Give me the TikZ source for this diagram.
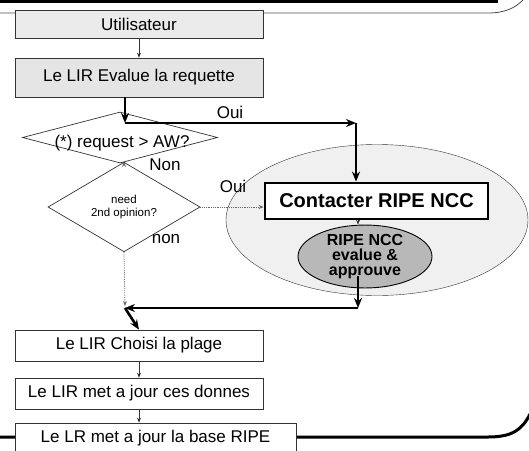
\documentclass[tikz,border=0pt]{standalone}
\usepackage{fontspec}
\setmainfont{Liberation Sans}
\usetikzlibrary{
  arrows.meta,
  calc,
  positioning,
  shapes.geometric,
}
\tikzstyle{thinarrow} = [
  -{Stealth[length=5pt,width=4pt]},
  line width=0.6pt,
  black!80,
]
\tikzstyle{thickarrow} = [
  -{Stealth[length=10pt,width=8pt]},
  line width=2.6pt,
  black,
]
\tikzstyle{dotarrow} = [
  -{Stealth[length=5pt,width=4pt]},
  line width=0.8pt,
  densely dotted,
  black!60,
]
\newcommand{\fs}[1]{\fontsize{#1}{#1}\selectfont}

\begin{document}
\begin{tikzpicture}[x=1pt, y=-1pt,
                    box/.style={draw=black!80, line width=0.7pt, minimum width=248pt,
                                inner sep=0pt, font=\fs{17}},
                    ask/.style={draw=black!80, line width=0.7pt, diamond, inner sep=0pt},
                    tag/.style={font=\fs{17}, inner sep=0pt}]
      \useasboundingbox (0,0) rectangle (529,450);
      \clip (0,0) rectangle (529,450);

      % cadre de la diapo
      \draw [line width=3pt] (0,1.5) -- (498,1.5);
      \draw [black!70, line width=0.8pt] (0,13) -- (488,13)
            .. controls (505,13) and (515,8) .. (523,0);
      \draw [line width=3pt] (0,437) -- (488,437)
            .. controls (512,437) and (522,430) .. (530,414);

      \node [box, fill=black!8, minimum height=28pt] (user) at (139,24) {Utilisateur};
      \node [box, fill=black!10, minimum height=39pt] (eval) at (139,77.5)
            {Le LIR Evalue la requette};

      \node [ask, minimum width=195pt, minimum height=51pt] (testaw) at (120,137.5) {};
      \node [tag] (testawtext) at (122,143) {(*) request > AW?};
      \node [ask, minimum width=152pt, minimum height=46pt, align=center,
             font=\fontsize{11.5}{13}\selectfont] (second) at (124,207) {need\\2nd opinion?};

      \node [draw=black!80, ellipse, fill=black!6, minimum width=302pt,
             minimum height=151pt] (zone) at (377,220) {};
      \node [draw, line width=2.8pt, fill=white, minimum width=223pt, minimum height=36pt,
             font=\fs{20}\bfseries] (contact) at (376.5,201) {Contacter RIPE NCC};
      \node [draw, ellipse, line width=0.9pt, fill=black!28, minimum width=134pt,
             minimum height=53pt, inner sep=0pt, align=center,
             font=\fontsize{16}{15}\selectfont\bfseries] (ripe) at (365,256.5)
            {RIPE NCC\\evalue \&\\approuve};

      \node [box, minimum height=31pt] (choose) at (139,345.5) {Le LIR Choisi la plage};
      \node [box, minimum height=31pt] (update) at (139,393.5) {Le LIR met a jour ces donnes};
      \node [box, fill=white, minimum width=281pt, minimum height=30pt] (ripedb) at (155.5,438)
            {Le LR met a jour la base RIPE};

      \coordinate (split) at (125,123);
      \coordinate (corner) at (356,123);
      \coordinate (back) at (358,308);
      \coordinate (merge) at (125,308);

      \node [tag] (oui1) at (230,112) {Oui};
      \node [tag] (non1) at (165,165) {Non};
      \node [tag] (oui2) at (233,186) {Oui};
      \node [tag] (non2) at (166,239) {non};

      \draw [thinarrow] (user) -- (eval);
      \draw [thickarrow] (eval.south -| split) -- (split);
      \draw [thickarrow] (split) -- (corner);
      \draw [thickarrow] (corner) -- (corner |- contact.north);
      \draw [dotarrow] (second.north |- testaw.south) -- (second.north);
      \draw [dotarrow] (second.east) -- (contact.west |- second.east);
      \draw [dotarrow] (second.south) -- ([yshift=2pt]merge);
      \draw [thinarrow] (contact.south -| back) -- (ripe.north -| back);
      \draw [thickarrow] ([yshift=12pt]ripe.south -| back) -- (back);
      \draw [thickarrow] (back) -- (merge);
      \draw [thickarrow] (merge) -- (choose.north);
      \draw [thinarrow] (choose) -- (update);
      \draw [thinarrow] (update.south) -- (update.south |- ripedb.north);
    \end{tikzpicture}
\end{document}
